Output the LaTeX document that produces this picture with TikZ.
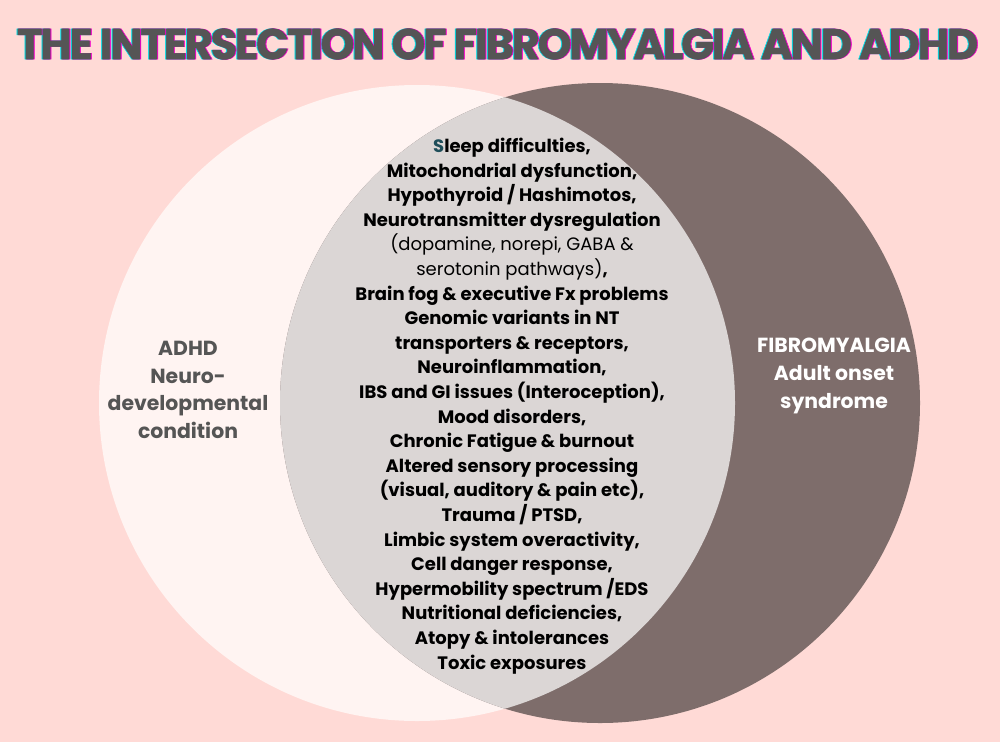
\documentclass[tikz,border=0pt]{standalone}
\usepackage{fontspec}
\setmainfont{Poppins}
\usetikzlibrary{positioning}
\definecolor{bgpink}{RGB}{255,218,214}
\definecolor{adhdwhite}{RGB}{255,244,242}
\definecolor{fibrobrown}{RGB}{126,109,107}
\definecolor{overlapgrey}{RGB}{219,214,213}
\definecolor{titlegrey}{RGB}{85,85,85}
\definecolor{sleepteal}{RGB}{31,78,90}
\definecolor{shiftcyan}{RGB}{0,220,230}
\definecolor{shiftpink}{RGB}{240,0,200}
\begin{document}
\begin{tikzpicture}[x=1pt, y=-1pt,
	title/.style={font=\fontsize{43}{43}\selectfont\bfseries\addfontfeatures{LetterSpace=-5,FakeBold=1.2}, inner sep=0pt},
	side/.style={font=\fontsize{20.4}{27.8}\selectfont\bfseries, align=center, inner sep=0pt},
	list/.style={font=\fontsize{18}{24.6}\selectfont\bfseries, align=center, inner sep=0pt, text=black}
]

\fill[bgpink] (0,0) rectangle (1000,742);
\useasboundingbox (0,0) rectangle (1000,742);

\coordinate (adhd)  at (417,403);
\coordinate (fibro) at (600,403);
\fill[adhdwhite]  (adhd)  circle[radius=318pt];
\fill[fibrobrown] (fibro) circle[radius=320pt];
\begin{scope}
	\clip (adhd) circle[radius=318pt];
	\fill[overlapgrey] (fibro) circle[radius=320pt];
\end{scope}

\node[title, text=shiftcyan] (titlec) at (496.5,44) {THE INTERSECTION OF FIBROMYALGIA AND ADHD};
\node[title, text=shiftpink] (titlem) at (498.5,44) {THE INTERSECTION OF FIBROMYALGIA AND ADHD};
\node[title, text=titlegrey] (title)  at (497.5,44) {THE INTERSECTION OF FIBROMYALGIA AND ADHD};

\node[side, text=titlegrey] (adhdlbl)  at (188,390) {ADHD\\Neuro-\\developmental\\condition};
\node[side, text=white]     (fibrolbl) at (834,376) {FIBROMYALGIA\\Adult onset\\syndrome};

\node[list] (overlap) at (512,406) {%
	{\color{sleepteal}S}leep difficulties,\\
	Mitochondrial dysfunction,\\
	Hypothyroid / Hashimotos,\\
	Neurotransmitter dysregulation\\
	{\mdseries (dopamine, norepi, GABA \&}\\
	{\mdseries serotonin pathways)},\\
	Brain fog \& executive Fx problems\\
	Genomic variants in NT\\
	transporters \& receptors,\\
	Neuroinflammation,\\
	IBS and GI issues (Interoception),\\
	Mood disorders,\\
	Chronic Fatigue \& burnout\\
	Altered sensory processing\\
	(visual, auditory \& pain etc),\\
	Trauma / PTSD,\\
	Limbic system overactivity,\\
	Cell danger response,\\
	Hypermobility spectrum /EDS\\
	Nutritional deficiencies,\\
	Atopy \& intolerances\\
	Toxic exposures};

\end{tikzpicture}
\end{document}
